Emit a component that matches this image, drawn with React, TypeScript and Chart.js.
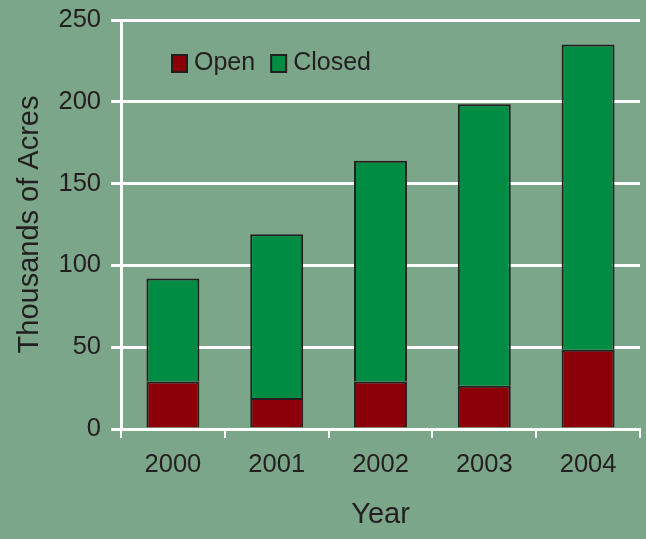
import React, { useEffect, useRef } from "react";
import { Chart, registerables } from "chart.js";

Chart.register(...registerables);

const years = ["2000", "2001", "2002", "2003", "2004"];
const openValues = [29, 19, 29, 26.5, 48.5];
const closedValues = [63, 100, 135, 172, 186.5];
const yTicks = [0, 50, 100, 150, 200, 250];

const BG = "#7ca689";
const TEXT = "#231f20";
const FONT = "'Liberation Sans', Arial, sans-serif";

const insideLegend = {
  id: "insideLegend",
  afterDraw(chart: any) {
    const ctx = chart.ctx;
    const area = chart.chartArea;
    let x = area.left + 51;
    const y = 63;
    ctx.save();
    ctx.font = `25px ${FONT}`;
    ctx.textBaseline = "middle";
    ctx.textAlign = "left";
    chart.data.datasets.forEach((ds: any) => {
      ctx.fillStyle = ds.backgroundColor;
      ctx.fillRect(x, y - 8, 15, 17);
      ctx.lineWidth = 2;
      ctx.strokeStyle = TEXT;
      ctx.strokeRect(x, y - 8, 15, 17);
      ctx.fillStyle = TEXT;
      ctx.fillText(ds.label, x + 22, y);
      x += 22 + ctx.measureText(ds.label).width + 16;
    });
    ctx.restore();
  },
};

export default function App() {
  const ref = useRef<HTMLCanvasElement>(null);
  useEffect(() => {
    if (!ref.current) return;
    const chart = new Chart(ref.current, {
      type: "bar",
      data: {
        labels: years,
        datasets: [
          {
            label: "Open",
            data: openValues,
            backgroundColor: "#8b0008",
            borderColor: TEXT,
            borderWidth: 2,
            barPercentage: 0.51,
            categoryPercentage: 1,
          },
          {
            label: "Closed",
            data: closedValues,
            backgroundColor: "#008c42",
            borderColor: TEXT,
            borderWidth: 2,
            barPercentage: 0.51,
            categoryPercentage: 1,
          },
        ],
      },
      options: {
        responsive: false,
        animation: false,
        layout: { padding: { top: 20, right: 6, left: 0, bottom: 0 } },
        plugins: {
          legend: { display: false },
          tooltip: { enabled: false },
        },
        scales: {
          x: {
            stacked: true,
            afterFit: (s: any) => {
              s.height = 110;
              s.paddingLeft = 0;
              s.paddingRight = 0;
            },
            border: { display: true, color: "#ffffff", width: 3 },
            grid: {
              display: true,
              offset: true,
              drawOnChartArea: true,
              drawTicks: true,
              tickLength: 9,
              tickWidth: 2,
              tickColor: "#ffffff",
              lineWidth: 2,
              color: (c: any) => (c.index === years.length ? "#ffffff" : "rgba(0,0,0,0)"),
            },
            ticks: {
              color: TEXT,
              font: { family: FONT, size: 25.5 },
              padding: 12,
            },
            title: {
              display: true,
              text: "Year",
              color: TEXT,
              font: { family: FONT, size: 29 },
              padding: { top: 0, bottom: 7 },
            },
          },
          y: {
            stacked: true,
            min: 0,
            max: 250,
            afterFit: (s: any) => {
              s.width = 121;
              s.paddingTop = 0;
              s.paddingBottom = 0;
            },
            afterBuildTicks: (s: any) => {
              s.ticks = yTicks.map((v) => ({ value: v }));
            },
            border: { display: true, color: "#ffffff", width: 3 },
            grid: {
              color: "#ffffff",
              lineWidth: 3,
              tickLength: 10,
              tickColor: "#ffffff",
              tickWidth: 3,
            },
            ticks: {
              color: TEXT,
              font: { family: FONT, size: 25.5 },
              padding: 10,
            },
            title: {
              display: true,
              text: "Thousands of Acres",
              color: TEXT,
              font: { family: FONT, size: 29 },
              padding: { top: 13, bottom: 0 },
            },
          },
        },
      },
      plugins: [insideLegend],
    });
    return () => chart.destroy();
  }, []);
  return (
    <div style={{ position: "fixed", left: 0, top: 0, width: 646, height: 539, background: BG }}>
      <canvas ref={ref} width={646} height={539} />
    </div>
  );
}
